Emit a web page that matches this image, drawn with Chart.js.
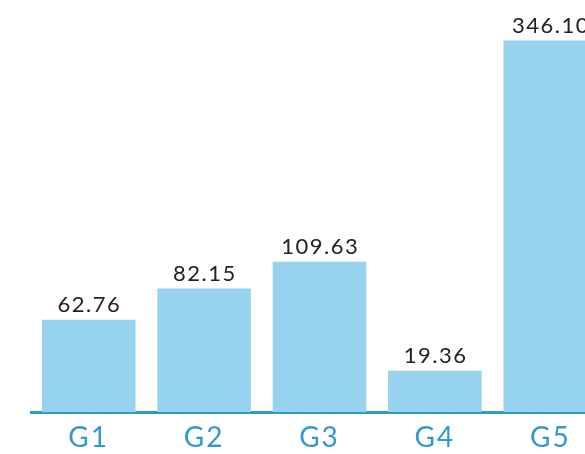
<!DOCTYPE html>
<html>
<head>
<meta charset="utf-8">
<script src="https://cdn.jsdelivr.net/npm/chart.js@4/dist/chart.umd.min.js"></script>
<style>
  html, body { margin: 0; padding: 0; overflow: hidden; background: #ffffff; }
  #wrap { width: 585px; height: 454px; overflow: hidden; }
</style>
</head>
<body>
<div id="wrap"><canvas id="barChart" width="608" height="454"></canvas></div>
<script>
const categories = ['G1', 'G2', 'G3', 'G4', 'G5'];
// numbers printed above the bars
const values = [62.76, 82.15, 109.63, 19.36, 346.10];
// bar lengths as drawn in the picture (same units, tallest bar = its label);
// the original does not draw the shorter bars to the scale of their labels
const barLengths = [85.8, 114.8, 139.9, 38.2, 346.1];

const barColor = '#97d3ef';
const axisColor = '#3399cc';

document.addEventListener('DOMContentLoaded', function() {
    initBarChart();
});

// wide tracking for the category labels, like the original
const tracking = {
    id: 'tracking',
    beforeDraw(chart) {
        chart.ctx.letterSpacing = '2px';
    }
};

// draws the value above each bar
const valueLabels = {
    id: 'valueLabels',
    afterDatasetsDraw(chart) {
        const ctx = chart.ctx;
        const meta = chart.getDatasetMeta(0);
        ctx.save();
        ctx.font = '400 22px Lato';
        ctx.fillStyle = '#222222';
        ctx.textAlign = 'center';
        ctx.textBaseline = 'alphabetic';
        ctx.letterSpacing = '1.5px';
        meta.data.forEach((bar, i) => {
            ctx.fillText(values[i].toFixed(2), bar.x + 0.75, bar.y - 8);
        });
        ctx.restore();
    }
};

function initBarChart() {
    const ctx = document.getElementById('barChart');
    if (!ctx) return;

    const chart = new Chart(ctx, {
        type: 'bar',
        data: {
            labels: categories,
            datasets: [{
                data: barLengths,
                backgroundColor: barColor,
                borderWidth: 0,
                barThickness: 93
            }]
        },
        options: {
            responsive: false,
            animation: false,
            layout: {
                padding: { left: 31, right: 0, top: 12, bottom: 0 }
            },
            plugins: {
                legend: { display: false },
                tooltip: { enabled: false }
            },
            scales: {
                x: {
                    grid: { display: false, drawTicks: false },
                    border: { display: true, color: axisColor, width: 3 },
                    ticks: {
                        color: axisColor,
                        padding: 9,
                        font: { family: 'Lato', size: 28 }
                    },
                    afterFit: function(scale) {
                        scale.height = 42;
                    }
                },
                y: {
                    display: false,
                    min: 0,
                    max: 373
                }
            }
        },
        plugins: [tracking, valueLabels]
    });

    window.barChart = chart;
}
</script>
</body>
</html>
